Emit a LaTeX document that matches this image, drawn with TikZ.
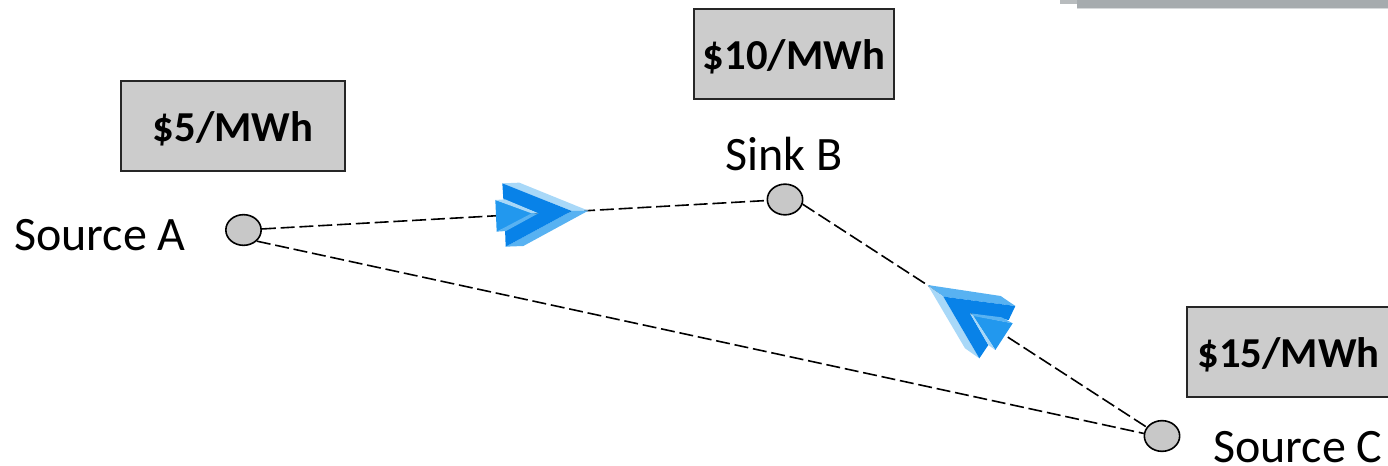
\documentclass[tikz,border=0pt]{standalone}
\usepackage{fontspec}
\setmainfont{Carlito}
\definecolor{boxgray}{HTML}{CCCCCC}
\definecolor{dotgray}{HTML}{C8C8C8}
\definecolor{adark}{HTML}{0882E8}
\definecolor{amid}{HTML}{2298EE}
\definecolor{alight}{HTML}{A8D8F8}
\definecolor{asoft}{HTML}{58B2F2}
\definecolor{abar}{HTML}{A6ABAE}
\usetikzlibrary{shapes.geometric}
\tikzset{
  pricebox/.style={draw=black!85,line width=1.5pt,fill=boxgray,anchor=north west,inner sep=0pt,minimum height=67.5pt,text=black,font=\fontsize{32}{34}\selectfont\bfseries},
  busdot/.style={ellipse,draw=black,line width=1.2pt,fill=dotgray,minimum width=26.5pt,minimum height=23pt,inner sep=0pt},
  lbl/.style={font=\fontsize{36}{38}\selectfont,text=black,inner sep=0pt},
  tie/.style={draw=black,line width=1.2pt,dash pattern=on 10.5pt off 3.6pt},
}
\newcommand{\pricelow}[1]{\raisebox{-11.5pt}[0pt][0pt]{#1}}
\begin{document}
\begin{tikzpicture}[x=0.75pt,y=-0.75pt]
\useasboundingbox (0,0) rectangle (1388,466);
% top-right bar
\fill[abar!80] (1060,0) rectangle (1388,4);
\fill[abar] (1077,0) rectangle (1388,8);
\fill[abar!45] (1077,8) rectangle (1388,9.5);
% boxes
\node[pricebox,minimum width=168pt] (pa) at (120,80) {\pricelow{\$5/MWh}};
\node[pricebox,minimum width=150pt] (pb) at (693,8) {\pricelow{\$10/MWh}};
\begin{scope}
\clip (0,0) rectangle (1388,466);
\node[pricebox,minimum width=160pt,text width=160pt,align=left] (pc) at (1186,306) {\hspace{8pt}\pricelow{\$15/MWh}};
\end{scope}
% buses
\node[busdot] (A) at (243.5,230) {};
\node[busdot] (B) at (785,199.5) {};
\node[busdot] (C) at (1162,436) {};
% ties
\draw[tie] (A) -- (B);
\draw[tie] (B.-15) -- (C.150);
\draw[tie] (A.-40) -- (C.172);
% labels
\node[lbl,anchor=base west] (la) at (14,251) {Source A};
\node[lbl,anchor=base west] (lb) at (725,171) {Sink B};
\node[lbl,anchor=base west] (lc) at (1213,462) {Source C};
% arrow 1
\begin{scope}[shift={(470,160)},x=0.25pt,y=-0.25pt]
\fill[alight] (97,70) -- (148,68) -- (355,152) -- (305,153) -- cycle;
\fill[asoft] (305,153) -- (355,152) -- (160,258) -- (107,260) -- cycle;
\fill[adark] (97,70) -- (305,153) -- (107,260) -- (105,205) -- (205,160) -- (100,118) -- cycle;
\fill[amid] (76,120) -- (195,160) -- (80,215) -- cycle;
\fill[alight] (76,120) -- (105,118) -- (205,160) -- (185,160) -- cycle;
\fill[asoft] (80,215) -- (185,160) -- (205,160) -- (108,213) -- cycle;
\end{scope}
% arrow 2
\begin{scope}[shift={(910,270)},x=0.25pt,y=-0.25pt]
\fill[asoft] (53,45) -- (272,78) -- (316,108) -- (100,80) -- cycle;
\fill[alight] (53,45) -- (100,80) -- (208,265) -- (165,235) -- cycle;
\fill[adark] (100,80) -- (316,108) -- (296,150) -- (180,130) -- (235,225) -- (208,265) -- cycle;
\fill[amid] (188,136) -- (308,160) -- (256,240) -- cycle;
\fill[asoft] (180,130) -- (275,142) -- (308,160) -- (190,138) -- cycle;
\fill[alight] (180,130) -- (190,138) -- (256,240) -- (235,225) -- cycle;
\end{scope}
\end{tikzpicture}
\end{document}
